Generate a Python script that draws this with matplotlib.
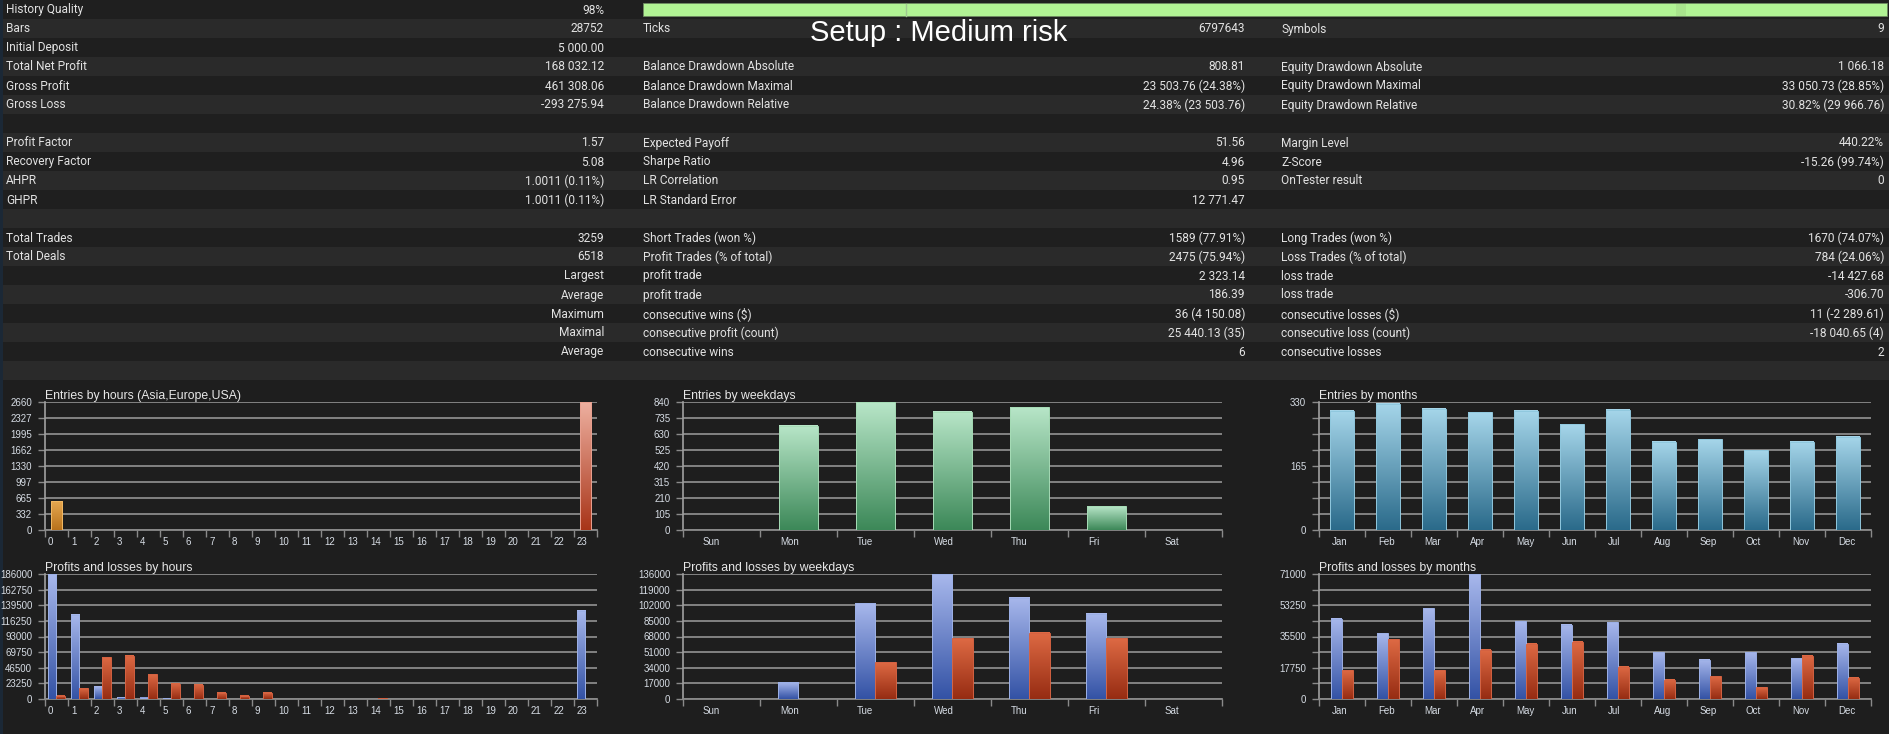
import matplotlib
matplotlib.use('Agg')
import matplotlib.pyplot as plt
import numpy as np
from matplotlib.patches import Rectangle
from matplotlib.colors import LinearSegmentedColormap

# ---------------- data ----------------
table_rows = [
    ("History Quality", "98%", "", "", "", ""),
    ("Bars", "28752", "Ticks", "6797643", "Symbols", "9"),
    ("Initial Deposit", "5 000.00", "", "", "", ""),
    ("Total Net Profit", "168 032.12", "Balance Drawdown Absolute", "808.81", "Equity Drawdown Absolute", "1 066.18"),
    ("Gross Profit", "461 308.06", "Balance Drawdown Maximal", "23 503.76 (24.38%)", "Equity Drawdown Maximal", "33 050.73 (28.85%)"),
    ("Gross Loss", "-293 275.94", "Balance Drawdown Relative", "24.38% (23 503.76)", "Equity Drawdown Relative", "30.82% (29 966.76)"),
    ("", "", "", "", "", ""),
    ("Profit Factor", "1.57", "Expected Payoff", "51.56", "Margin Level", "440.22%"),
    ("Recovery Factor", "5.08", "Sharpe Ratio", "4.96", "Z-Score", "-15.26 (99.74%)"),
    ("AHPR", "1.0011 (0.11%)", "LR Correlation", "0.95", "OnTester result", "0"),
    ("GHPR", "1.0011 (0.11%)", "LR Standard Error", "12 771.47", "", ""),
    ("", "", "", "", "", ""),
    ("Total Trades", "3259", "Short Trades (won %)", "1589 (77.91%)", "Long Trades (won %)", "1670 (74.07%)"),
    ("Total Deals", "6518", "Profit Trades (% of total)", "2475 (75.94%)", "Loss Trades (% of total)", "784 (24.06%)"),
    ("", "Largest", "profit trade", "2 323.14", "loss trade", "-14 427.68"),
    ("", "Average", "profit trade", "186.39", "loss trade", "-306.70"),
    ("", "Maximum", "consecutive wins ($)", "36 (4 150.08)", "consecutive losses ($)", "11 (-2 289.61)"),
    ("", "Maximal", "consecutive profit (count)", "25 440.13 (35)", "consecutive loss (count)", "-18 040.65 (4)"),
    ("", "Average", "consecutive wins", "6", "consecutive losses", "2"),
    ("", "", "", "", "", ""),
]
history_quality = 98
setup_title = "Setup : Medium risk"

hour_labels = [str(i) for i in range(24)]
entries_hours = [599] + [0] * 22 + [2660]
profit_hours = [186000, 125000, 18000, 2500, 1500, 1000, 0, 0, 0, 0, 0, 0,
                0, 0, 0, 0, 0, 0, 0, 0, 0, 0, 0, 131000]
loss_hours = [5000, 16000, 62000, 64000, 37000, 23000, 21000, 9000, 5000, 9000, 0, 0,
              0, 0, 1000, 0, 0, 0, 0, 0, 0, 0, 0, 0]

weekday_labels = ["Sun", "Mon", "Tue", "Wed", "Thu", "Fri", "Sat"]
entries_weekdays = [0, 683, 838, 775, 806, 157, 0]
profit_weekdays = [0, 18000, 104000, 136000, 110000, 93000, 0]
loss_weekdays = [0, 0, 40000, 66000, 72000, 66000, 0]

month_labels = ["Jan", "Feb", "Mar", "Apr", "May", "Jun", "Jul", "Aug", "Sep", "Oct", "Nov", "Dec"]
entries_months = [307, 325, 313, 303, 307, 272, 310, 227, 234, 205, 228, 240]
profit_months = [45500, 37400, 51600, 71000, 44200, 42100, 43500, 26500, 22400, 26500, 23100, 31300]
loss_months = [16300, 34000, 16300, 27900, 31300, 32600, 18300, 10900, 12900, 6800, 24500, 12200]

# axis maxima (tick ranges as shown)
ymax_entries = [2660, 840, 330]
ymax_pl = [186000, 136000, 71000]

# ---------------- figure ----------------
W, H = 1890, 734
fig = plt.figure(figsize=(W / 100, H / 100), dpi=100)
BG = '#1e1e1e'
fig.patch.set_facecolor(BG)

bg = fig.add_axes([0, 0, 1, 1])
bg.set_xlim(0, W)
bg.set_ylim(H, 0)
bg.axis('off')

ROW_H = 19.0
TFONT = 'Roboto'
TSIZE = 8.6
TCOL = '#e2e2e2'
for i, row in enumerate(table_rows):
    y0 = i * ROW_H
    col = '#1f1f1f' if i % 2 == 0 else '#2a2a2a'
    bg.add_patch(Rectangle((0, y0), W, ROW_H, facecolor=col, edgecolor='none', zorder=0))
    yc = y0 + ROW_H / 2 + 0.5
    c1l, c1v, c2l, c2v, c3l, c3v = row
    kw = dict(va='center', fontsize=TSIZE, family=TFONT, color=TCOL, zorder=3)
    if c1l:
        bg.text(6, yc, c1l, ha='left', **kw)
    if c1v:
        bg.text(604, yc, c1v, ha='right', **kw)
    if c2l:
        bg.text(643, yc, c2l, ha='left', **kw)
    if c2v:
        bg.text(1245, yc, c2v, ha='right', **kw)
    if c3l:
        bg.text(1281, yc, c3l, ha='left', **kw)
    if c3v:
        bg.text(1884, yc, c3v, ha='right', **kw)

# left thin bluish edge
bg.add_patch(Rectangle((0, 0), 3, H, facecolor='#1b2836', edgecolor='none', zorder=1))

# history quality bar
bar_x0, bar_x1 = 643, 1887
bg.add_patch(Rectangle((bar_x0, 3), (bar_x1 - bar_x0), 13, facecolor='#b1f394',
                       edgecolor='#6f8a62', linewidth=0.6, zorder=2))
bg.plot([906, 906], [3.5, 15.5], color='#a0c890', lw=1.0, zorder=2.5)
bg.add_patch(Rectangle((1676, 3.5), 10, 12, facecolor='#a8e48c', edgecolor='none', zorder=2.5))

bg.text(810, 41, setup_title, ha='left', va='baseline', fontsize=21,
        family='Liberation Sans', color='white', zorder=4)

# ---------------- charts ----------------
GRID = '#8a8a8a'
LBL = '#d6dce4'


def add_ax(x0, x1, ytop, ybot):
    return fig.add_axes([x0 / W, 1 - ybot / H, (x1 - x0) / W, (ybot - ytop) / H])


def grad_bars(ax, xs, hs, width, top, bottom, edge):
    bars = ax.bar(xs, hs, width, facecolor='none', edgecolor=edge, linewidth=0.7, zorder=4)
    cmap = LinearSegmentedColormap.from_list('g', [bottom, top])
    grad = np.linspace(0, 1, 256).reshape(-1, 1)
    for b in bars:
        h = b.get_height()
        if h <= 0:
            continue
        x0 = b.get_x()
        ax.imshow(grad, extent=[x0, x0 + b.get_width(), 0, h], origin='lower',
                  aspect='auto', cmap=cmap, zorder=3, interpolation='bilinear')
    return bars


def style(ax, n, labels, off, ymax, label_every, title):
    ax.set_facecolor('none')
    ax.set_xlim(0, n)
    ax.set_ylim(0, ymax)
    gv = np.linspace(0, ymax, 9)
    ax.set_yticks(gv)
    ax.set_yticklabels([str(int(v)) if k % label_every == 0 else '' for k, v in enumerate(gv)],
                       family='Liberation Sans')
    ax.yaxis.grid(True, color=GRID, lw=1.3)
    ax.xaxis.grid(False)
    ax.set_axisbelow(True)
    for s in ['top', 'right']:
        ax.spines[s].set_visible(False)
    ax.spines['left'].set_color('#a0a0a0')
    ax.spines['left'].set_linewidth(1.2)
    ax.spines['bottom'].set_color(GRID)
    ax.spines['bottom'].set_linewidth(1.3)
    ax.tick_params(axis='y', length=5, width=1, color=GRID, pad=4.2,
                   labelsize=7, labelcolor=LBL)
    ax.set_xticks(np.arange(n + 1))
    ax.set_xticklabels([])
    ax.set_xticks(np.arange(n) + off, minor=True)
    ax.set_xticklabels(labels, minor=True, family='Liberation Sans')
    ax.tick_params(axis='x', which='major', length=5, width=1, color=GRID)
    ax.tick_params(axis='x', which='minor', length=0, pad=5, labelsize=7, labelcolor=LBL)
    for t in ax.get_xticklabels(minor=True):
        t.set_ha('left')
    ax.text(0, 1.0, title, transform=ax.transAxes, ha='left', va='bottom',
            fontsize=8.8, family='Liberation Sans', color='#e8e8e8')


cols = [(45, 597), (683, 1222), (1319, 1871)]
top_row = (402, 530)
bot_row = (574, 699)

PROFIT = ('#a8b8ec', '#3352a5', '#9cb0e6')
LOSS = ('#de6a44', '#962c12', '#d46242')

# Entries by hours
ax = add_ax(cols[0][0], cols[0][1], *top_row)
nh = len(hour_labels)
xh = np.arange(nh) + 0.5
hour_cols = [('#e6a850', '#b8721c', '#f2b862')] * 12 + [('#eeb0a0', '#a83418', '#e8a090')] * 12
for i in range(nh):
    if entries_hours[i] > 0:
        t, b, e = hour_cols[i]
        grad_bars(ax, [xh[i]], [entries_hours[i]], 0.52, t, b, e)
style(ax, nh, hour_labels, 0.13, ymax_entries[0], 1, "Entries by hours (Asia,Europe,USA)")

# Profits and losses by hours
ax = add_ax(cols[0][0], cols[0][1], *bot_row)
w = 0.35
grad_bars(ax, xh - w / 2, profit_hours, w, *PROFIT)
grad_bars(ax, xh + w / 2, loss_hours, w, *LOSS)
style(ax, nh, hour_labels, 0.13, ymax_pl[0], 1, "Profits and losses by hours")

# Entries by weekdays
ax = add_ax(cols[1][0], cols[1][1], *top_row)
nw = len(weekday_labels)
xw = np.arange(nw) + 0.5
grad_bars(ax, xw, entries_weekdays, 0.5, '#b8e6c8', '#3c8858', '#a6dcb6')
style(ax, nw, weekday_labels, 0.26, ymax_entries[1], 1, "Entries by weekdays")

# Profits and losses by weekdays
ax = add_ax(cols[1][0], cols[1][1], *bot_row)
w = 0.26
grad_bars(ax, xw - w / 2, profit_weekdays, w, *PROFIT)
grad_bars(ax, xw + w / 2, loss_weekdays, w, *LOSS)
style(ax, nw, weekday_labels, 0.26, ymax_pl[1], 1, "Profits and losses by weekdays")

# Entries by months
ax = add_ax(cols[2][0], cols[2][1], *top_row)
nm = len(month_labels)
xm = np.arange(nm) + 0.5
grad_bars(ax, xm, entries_months, 0.52, '#a6d6ea', '#2a6a8a', '#90c8de')
style(ax, nm, month_labels, 0.28, ymax_entries[2], 4, "Entries by months")

# Profits and losses by months
ax = add_ax(cols[2][0], cols[2][1], *bot_row)
w = 0.23
grad_bars(ax, xm - w / 2, profit_months, w, *PROFIT)
grad_bars(ax, xm + w / 2, loss_months, w, *LOSS)
style(ax, nm, month_labels, 0.28, ymax_pl[2], 2, "Profits and losses by months")

fig.savefig('out.png', dpi=100, facecolor=BG)
